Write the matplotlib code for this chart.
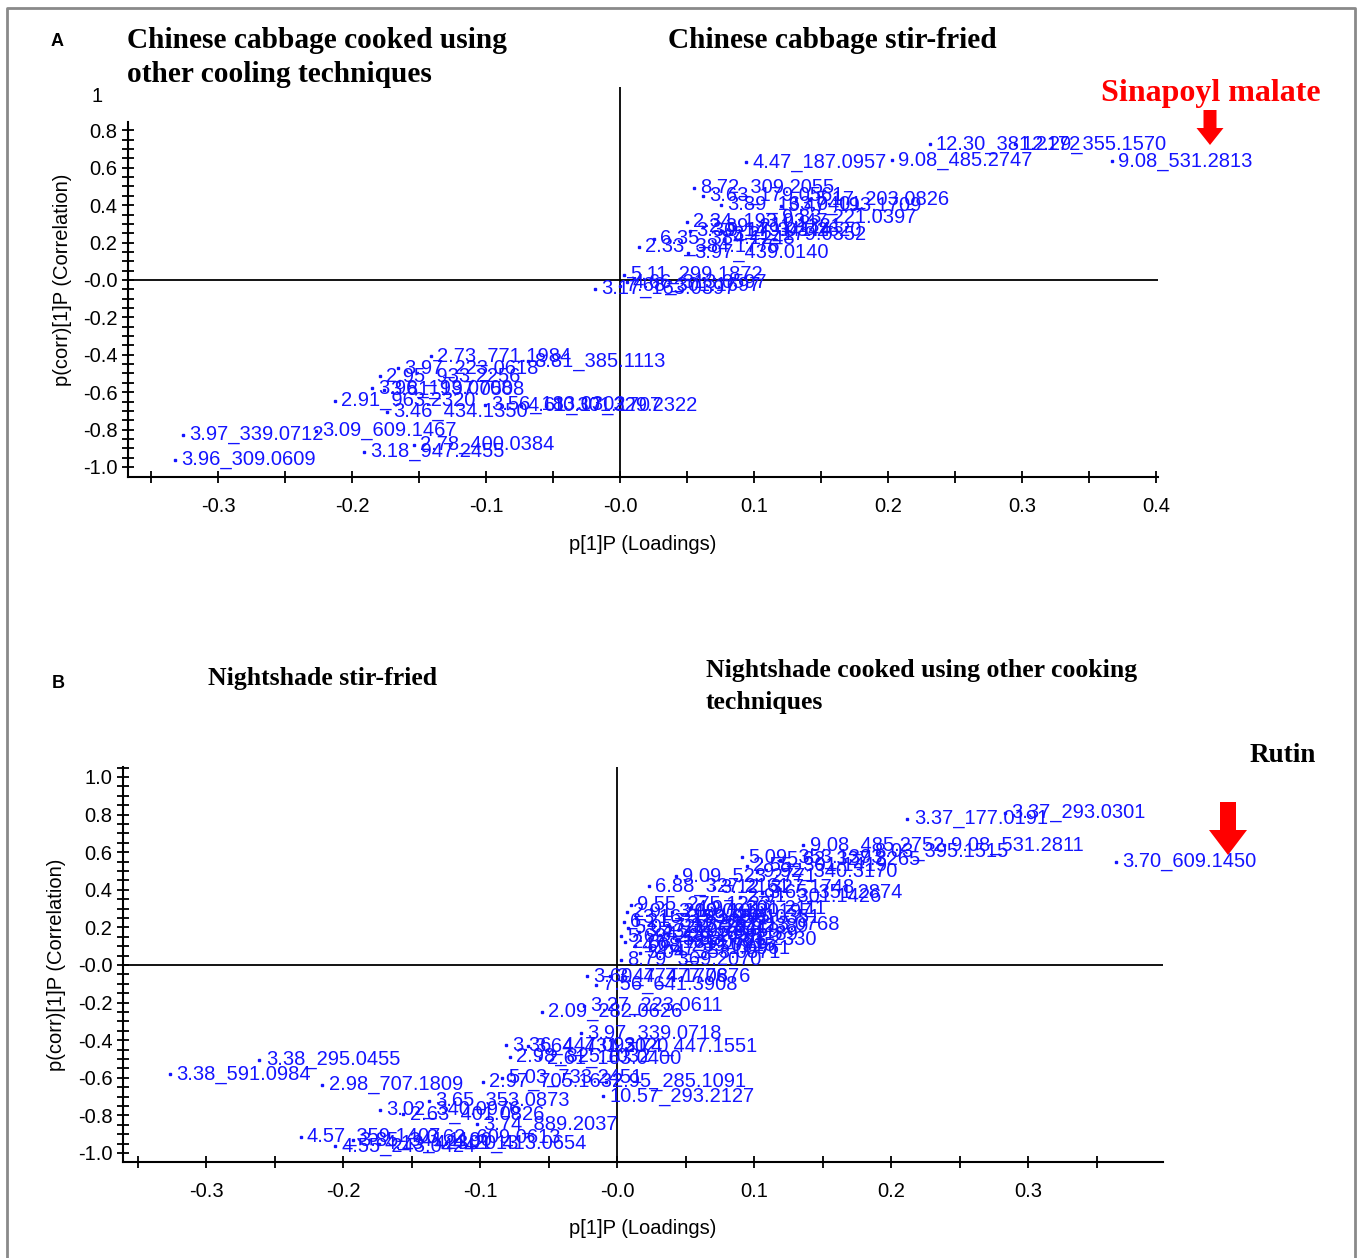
import matplotlib
matplotlib.use("Agg")
import numpy as np
import matplotlib.pyplot as plt
from matplotlib.patches import FancyArrow
from matplotlib.ticker import MultipleLocator, FixedLocator

plt.rcParams['font.family'] = ['Liberation Sans', 'DejaVu Sans']

BLUE = '#1414ff'

# Panel A: Chinese cabbage loadings
a_names = ["9.08_531.2813", "12.30_381.2172", "12.29_355.1570", "4.47_187.0957",
           "9.08_485.2747", "8.72_309.2055", "3.63_179.0561", "3.89_163.0401",
           "5.17_203.0826", "3.47_193.1709", "2.34_193.0347", "9.83_221.0397",
           "3.30_179.0344", "9.14_341.2620", "6.35_384.1248", "2.33_384.1776",
           "3.97_439.0140", "5.11_299.1872", "3.17_163.0397", "7.68_301.1697",
           "4.66_313.0597", "2.39_211.1321", "3.21_179.0352",
           "2.73_771.1984", "3.97_223.0618", "8.81_385.1113", "2.95_933.2256",
           "3.96_193.0708", "3.81_197.0508", "2.91_963.2320", "3.56_183.0302",
           "10.17_329.2322", "4.61_301.1707", "3.46_434.1350", "3.97_339.0712",
           "3.09_609.1467", "3.18_947.2455", "2.78_400.0384", "3.96_309.0609"]
a_x = [0.367, 0.231, 0.295, 0.094,
       0.203, 0.055, 0.062, 0.075,
       0.141, 0.120, 0.050, 0.116,
       0.052, 0.075, 0.025, 0.014,
       0.051, 0.003, -0.019, 0.000,
       0.005, 0.062, 0.079,
       -0.141, -0.166, -0.069, -0.179,
       -0.185, -0.176, -0.213, -0.101,
       -0.055, -0.074, -0.174, -0.326,
       -0.227, -0.191, -0.154, -0.332]
a_y = [0.634, 0.725, 0.725, 0.629,
       0.639, 0.494, 0.451, 0.403,
       0.430, 0.398, 0.312, 0.333,
       0.263, 0.263, 0.220, 0.177,
       0.145, 0.027, -0.048, -0.032,
       -0.011, 0.285, 0.242,
       -0.408, -0.473, -0.435, -0.516,
       -0.580, -0.586, -0.645, -0.666,
       -0.672, -0.672, -0.704, -0.828,
       -0.806, -0.919, -0.881, -0.962]

# Panel B: Nightshade loadings
b_names = ["3.70_609.1450", "3.37_293.0301", "3.37_177.0191", "9.08_485.2752",
           "9.08_531.2811", "8.03_395.1515", "5.09_353.1393", "5.62_327.3265",
           "2.55_301.1419", "9.92_340.3170", "9.09_523.2771", "6.88_327.2161",
           "3.12_327.1748", "3.65_351.2874", "2.91_301.1426", "9.55_275.1223",
           "2.91_209.0813", "3.16_193.0501", "6.21_311.2225", "5.05_287.1641",
           "3.43_195.0658", "5.69_229.1438", "2.88_181.0721", "4.08_239.0915",
           "3.59_205.0351", "7.32_297.2389", "4.45_265.1189", "3.19_191.0197",
           "2.47_271.0961", "3.04_353.0871", "8.79_369.2070", "4.97_301.2111",
           "3.33_213.0768", "5.88_303.2330",
           "3.60_474.1776", "3.47_477.0876", "7.56_641.3908", "2.09_282.0626",
           "3.27_223.0611", "3.97_339.0718", "3.36_447.0931", "3.64_431.2020",
           "3.74_447.1551", "2.98_825.1032", "2.61_163.0400", "3.38_295.0455",
           "3.38_591.0984", "2.98_707.1809", "2.97_705.1632", "5.03_733.2451",
           "2.95_285.1091", "10.57_293.2127", "3.65_353.0873", "3.02_340.0976",
           "2.63_401.0826", "3.74_889.2037", "4.57_359.1407", "4.55_243.0424",
           "3.85_341.1190", "4.13_423.2013", "4.01_413.0654", "3.62_609.0613"]
b_x = [0.364, 0.283, 0.212, 0.136,
       0.239, 0.183, 0.091, 0.119,
       0.095, 0.102, 0.043, 0.023,
       0.071, 0.106, 0.090, 0.010,
       0.007, 0.014, 0.005, 0.008,
       0.016, 0.003, 0.006, 0.013,
       0.046, 0.037, 0.031, 0.040,
       0.024, 0.017, 0.003, 0.053,
       0.060, 0.043,
       -0.022, -0.005, -0.015, -0.055,
       -0.024, -0.026, -0.081, -0.065,
       0.000, -0.078, -0.056, -0.261,
       -0.326, -0.215, -0.098, -0.084,
       -0.008, -0.010, -0.137, -0.173,
       -0.156, -0.102, -0.231, -0.206,
       -0.193, -0.174, -0.125, -0.144]
b_y = [0.548, 0.809, 0.777, 0.638,
       0.638, 0.606, 0.574, 0.559,
       0.527, 0.495, 0.473, 0.420,
       0.410, 0.383, 0.362, 0.319,
       0.282, 0.250, 0.229, 0.197,
       0.176, 0.154, 0.122, 0.101,
       0.250, 0.207, 0.160, 0.282,
       0.090, 0.064, 0.027, 0.303,
       0.213, 0.133,
       -0.059, -0.059, -0.106, -0.250,
       -0.218, -0.362, -0.426, -0.431,
       -0.431, -0.489, -0.495, -0.505,
       -0.580, -0.638, -0.622, -0.601,
       -0.622, -0.697, -0.723, -0.771,
       -0.793, -0.846, -0.915, -0.963,
       -0.931, -0.952, -0.947, -0.920]

x_ticks = [-0.3, -0.2, -0.1, 0.0, 0.1, 0.2, 0.3, 0.4]
x_ticklabels = ["-0.3", "-0.2", "-0.1", "-0.0", "0.1", "0.2", "0.3", "0.4"]
y_ticks = [-1.0, -0.8, -0.6, -0.4, -0.2, 0.0, 0.2, 0.4, 0.6, 0.8, 1.0]
y_ticklabels = ["-1.0", "-0.8", "-0.6", "-0.4", "-0.2", "-0.0", "0.2", "0.4", "0.6", "0.8", "1.0"]

W, H = 1357, 1258
fig = plt.figure(figsize=(W / 100, H / 100), dpi=100)


def px_axes(left, top, right, bottom):
    return fig.add_axes([left / W, 1 - bottom / H, (right - left) / W, (bottom - top) / H])


def panel(ax, names, xs, ys, xlim, ylim, ymax_tick, xmax_label, spine_top):
    ax.set_xlim(*xlim)
    ax.set_ylim(*ylim)
    for s in ['top', 'right']:
        ax.spines[s].set_visible(False)
    for s in ['left', 'bottom']:
        ax.spines[s].set_linewidth(1.5)
    ax.spines['left'].set_bounds(ylim[0], spine_top)
    ax.axhline(0, color='black', lw=1.3, zorder=1)
    ax.axvline(0, color='black', lw=1.3, zorder=1)

    xt = [t for t in x_ticks if t <= xmax_label + 1e-9]
    ax.xaxis.set_major_locator(FixedLocator(xt))
    ax.set_xticklabels(x_ticklabels[:len(xt)])
    ax.xaxis.set_minor_locator(MultipleLocator(0.05))
    yt = [t for t in y_ticks if t <= ymax_tick + 1e-9]
    ax.yaxis.set_major_locator(FixedLocator(yt))
    ax.set_yticklabels(y_ticklabels[:len(yt)])
    ax.yaxis.set_minor_locator(FixedLocator(np.arange(-1.0, spine_top + 0.001, 0.05)))
    ax.tick_params(which='both', direction='inout', length=9, width=1.3, labelsize=14.5)
    ax.tick_params(axis='x', which='both', pad=10)
    ax.tick_params(axis='y', which='both', pad=3)

    ax.plot(xs, ys, 's', ms=1.6, color=BLUE, mec=BLUE, zorder=3)
    for n, x, y in zip(names, xs, ys):
        ax.annotate(n, (x, y), xytext=(4.5, 0), textcoords='offset points',
                    va='center', ha='left', fontsize=14.5, color=BLUE, zorder=4)

    ax.set_xlabel("p[1]P (Loadings)", fontsize=14.5, va='center')
    ax.set_ylabel("p(corr)[1]P (Correlation)", fontsize=14.5, va='center')


axA = px_axes(128, 87, 1158, 477)
panel(axA, a_names, a_x, a_y, (-0.3672, 0.4015), (-1.0535, 1.032), 0.8, 0.4, 0.845)
axA.xaxis.set_label_coords(0.5, -(544 - 477) / 390)
axA.yaxis.set_label_coords(-(128 - 62) / 1030, (477 - 280) / 390)

axB = px_axes(123, 767, 1163, 1162)
panel(axB, b_names, b_x, b_y, (-0.3606, 0.3985), (-1.048, 1.053), 1.0, 0.3, 1.053)
axB.xaxis.set_label_coords(0.5, -(1229 - 1162) / 395)
axB.yaxis.set_label_coords(-(123 - 57) / 1040, (1162 - 965) / 395)

# overlay in pixel coordinates for titles, arrows and frame
ov = fig.add_axes([0, 0, 1, 1], facecolor='none')
ov.set_xlim(0, W)
ov.set_ylim(H, 0)
ov.axis('off')

ov.plot([7, 7, 1355, 1355], [H, 8, 8, H], color='#8a8a8a', lw=2)

ov.text(97, 96, "1", fontsize=14.5, ha='center', va='center')

serif = ['Liberation Serif', 'DejaVu Serif']
ov.text(57, 41, "A", fontsize=13, fontweight='bold', ha='center', va='center')
ov.text(58, 684, "B", fontsize=13, fontweight='bold', ha='center', va='center')
ov.text(127, 41, "Chinese cabbage cooked using", family=serif, fontsize=21.2,
        fontweight='bold', va='center')
ov.text(127, 74, "other cooling techniques", family=serif, fontsize=21.2,
        fontweight='bold', va='center')
ov.text(668, 41, "Chinese cabbage stir-fried", family=serif, fontsize=21.2,
        fontweight='bold', va='center')
ov.text(1101, 94, "Sinapoyl malate", family=serif, fontsize=23, color='#ff0000',
        fontweight='bold', va='center')
ov.text(208, 678, "Nightshade stir-fried", family=serif, fontsize=18.5,
        fontweight='bold', va='center')
ov.text(706, 670, "Nightshade cooked using other cooking", family=serif, fontsize=18.5,
        fontweight='bold', va='center')
ov.text(706, 702, "techniques", family=serif, fontsize=18.5,
        fontweight='bold', va='center')
ov.text(1250, 756, "Rutin", family=serif, fontsize=19.5, fontweight='bold', va='center')

ov.add_patch(FancyArrow(1210, 110, 0, 35, width=13, head_width=27, head_length=17,
                        length_includes_head=True, color='#ff0000', lw=0))
ov.add_patch(FancyArrow(1228, 802, 0, 53, width=16, head_width=38, head_length=25,
                        length_includes_head=True, color='#ff0000', lw=0))

fig.savefig("out.png", dpi=100)
